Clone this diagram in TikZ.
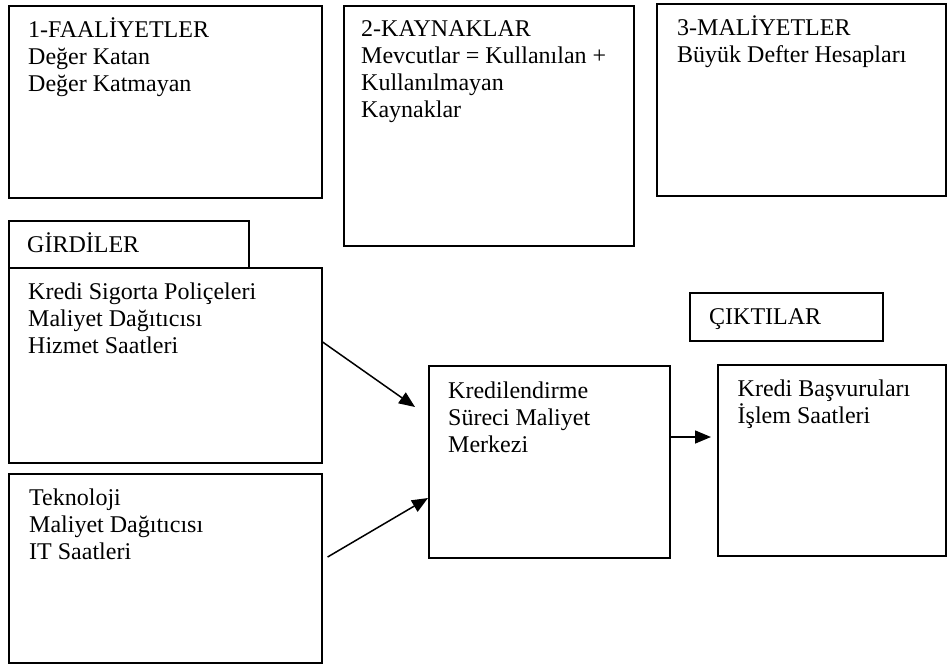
\documentclass[tikz,border=0pt]{standalone}
\usepackage{fontspec}
\setmainfont{Liberation Serif}
\usetikzlibrary{arrows.meta,calc}
\tikzset{
  boxnode/.style={draw=black, line width=1.6pt, rectangle, inner sep=0pt, anchor=north west},
  txt/.style={anchor=base west, inner sep=0pt, font=\fontsize{24}{27}\selectfont},
  arr/.style={line width=1.5pt, -{Triangle[length=16pt,width=13pt]}}
}
\newcommand{\mybox}[5]{% name x1 y1 x2 y2
  \node[boxnode, minimum width={(#4-#2)*1pt}, minimum height={(#5-#3)*1pt}] (#1) at (#2,#3) {};}
\newcommand{\lines}[1]{\parbox[t]{300pt}{\raggedright #1}}
\begin{document}
\begin{tikzpicture}[x=1pt,y=-1pt]
\useasboundingbox[fill=white] (0,0) rectangle (947,664);
% boxes
\mybox{b1}{8}{5}{321}{197}
\mybox{b2}{343}{5}{633}{245}
\mybox{b3}{656}{3}{945}{195}
\mybox{girdi}{8}{220}{248}{267}
\mybox{b4}{8}{267}{321}{462}
\mybox{b5}{8}{473}{321}{662}
\mybox{kc}{428}{365}{669}{557}
\mybox{cikti}{689}{292}{882}{340}
\mybox{kb}{717}{364}{945}{555}
% texts
\node[txt] (t1) at (28,37.7) {\lines{1-FAALİYETLER\\Değer Katan\\Değer Katmayan}};
\node[txt] (t2) at (361,36.7) {\lines{2-KAYNAKLAR\\Mevcutlar = Kullanılan +\\Kullanılmayan\\Kaynaklar}};
\node[txt] (t3) at (677,35) {\lines{3-MALİYETLER\\Büyük Defter Hesapları}};
\node[txt] (tg) at (27,252) {GİRDİLER};
\node[txt] (t4) at (28,299.5) {\lines{Kredi Sigorta Poliçeleri\\Maliyet Dağıtıcısı\\Hizmet Saatleri}};
\node[txt] (t5) at (29,505.7) {\lines{Teknoloji\\Maliyet Dağıtıcısı\\IT Saatleri}};
\node[txt] (tk) at (448,398.4) {\lines{Kredilendirme\\Süreci Maliyet\\Merkezi}};
\node[txt] (tc) at (709,324) {ÇIKTILAR};
\node[txt] (tb) at (737.5,396.7) {\lines{Kredi Başvuruları\\İşlem Saatleri}};
% connector ends
\coordinate (a1s) at ([yshift=-75pt]b4.north east);
\coordinate (a1e) at ([xshift=-13pt,yshift=-42pt]kc.north west);
\coordinate (a2s) at ([xshift=5pt,yshift=-84pt]b5.north east);
\coordinate (a2e) at ([yshift=-133pt]kc.north west);
\coordinate (a3s) at ([yshift=-72pt]kc.north east);
\coordinate (a3e) at ([xshift=-6pt,yshift=-73pt]kb.north west);
\draw[arr] (a1s) -- (a1e);
\draw[arr] (a2s) -- (a2e);
\draw[arr] (a3s) -- (a3e);
\end{tikzpicture}
\end{document}
